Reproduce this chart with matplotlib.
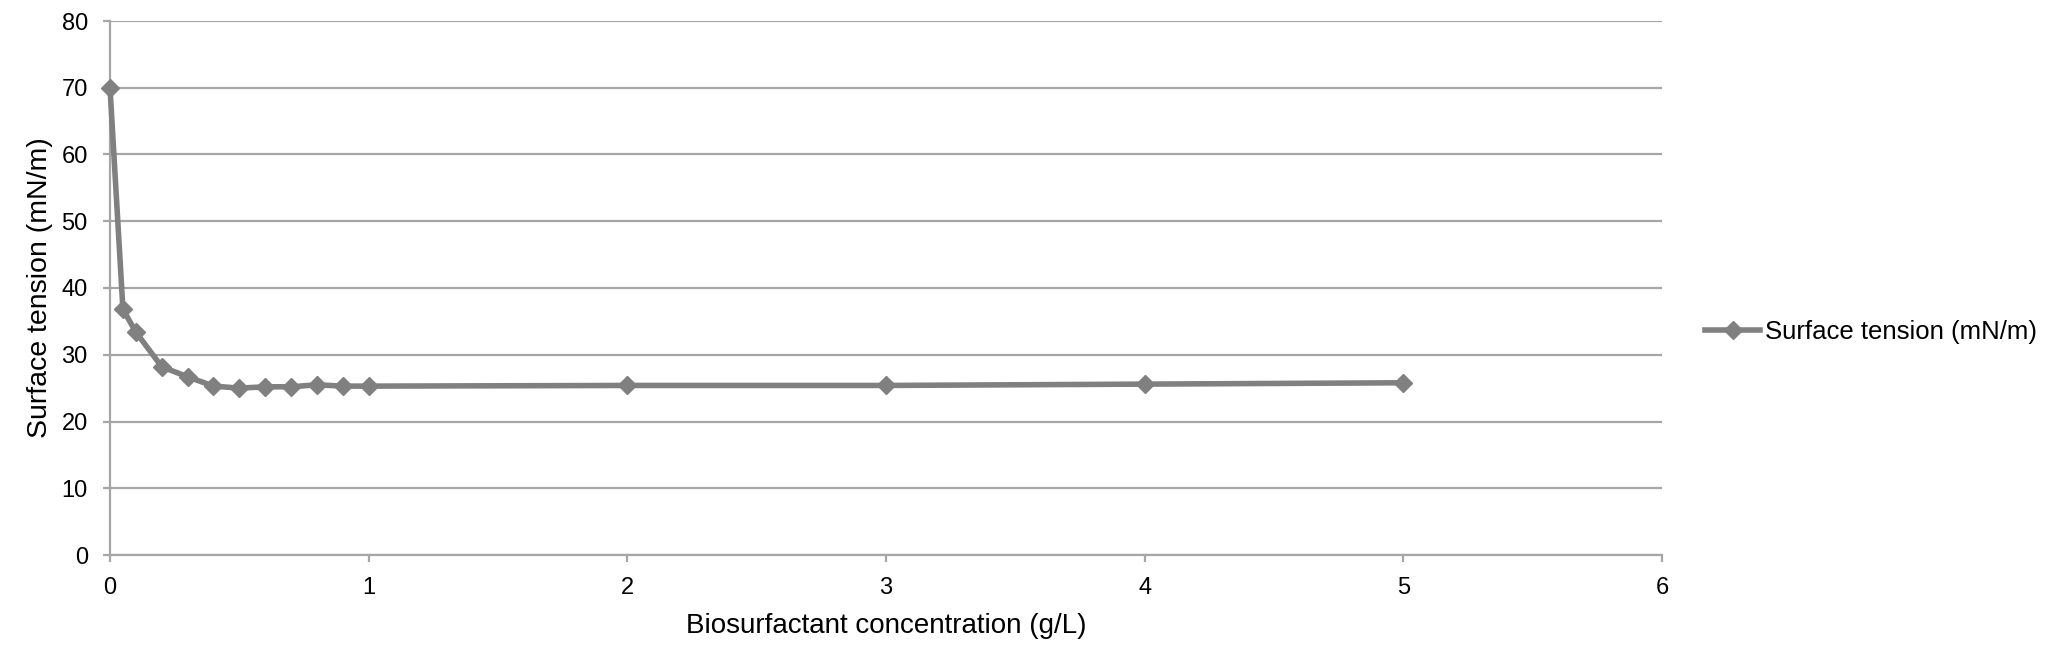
import matplotlib
matplotlib.use("Agg")
import matplotlib.pyplot as plt
from matplotlib.lines import Line2D

concentration = [0, 0.05, 0.1, 0.2, 0.3, 0.4, 0.5, 0.6, 0.7, 0.8, 0.9, 1, 2, 3, 4, 5]
surface_tension = [70.0, 36.8, 33.4, 28.2, 26.7, 25.3, 25.0, 25.2, 25.2, 25.5, 25.3, 25.3, 25.4, 25.4, 25.6, 25.8]
x_ticks = [0, 1, 2, 3, 4, 5, 6]
y_ticks = [0, 10, 20, 30, 40, 50, 60, 70, 80]
series_label = "Surface tension (mN/m)"

plt.rcParams['font.family'] = ['Liberation Sans', 'DejaVu Sans']
fig = plt.figure(figsize=(20.52, 6.64), dpi=100)
ax = fig.add_axes([110 / 2052, 1 - 555 / 664, 1552 / 2052, 534 / 664])

line_color = '#808080'
grid_color = '#a6a6a6'
ax.plot(concentration, surface_tension, color=line_color, lw=4, marker='D',
        markersize=9.5, markeredgecolor=line_color, markerfacecolor=line_color,
        label=series_label, zorder=3, clip_on=False)

ax.set_xlim(0, 6)
ax.set_ylim(0, 80)
ax.set_xticks(x_ticks)
ax.set_yticks(y_ticks)
ax.yaxis.grid(True, color=grid_color, lw=1.6)
ax.set_axisbelow(True)
for s in ['top', 'right']:
    ax.spines[s].set_visible(False)
for s in ['left', 'bottom']:
    ax.spines[s].set_color(grid_color)
    ax.spines[s].set_linewidth(1.6)
ax.tick_params(axis='both', colors=grid_color, labelcolor='black', labelsize=17,
               length=5, width=1.6, pad=11)
ax.set_xlabel("Biosurfactant concentration (g/L)", fontsize=20, labelpad=10)
ax.set_ylabel(series_label, fontsize=20.5, labelpad=6)

handle = Line2D([], [], color=line_color, lw=4, marker='D', markersize=9,
                markeredgecolor=line_color, markerfacecolor=line_color)
fig.legend([handle], [series_label], loc='center left',
           bbox_to_anchor=(1705 / 2052, 1 - 332 / 664), frameon=False, fontsize=18.5,
           handlelength=2.15, handletextpad=0.2, borderpad=0, borderaxespad=0)

fig.savefig("out.png", dpi=100)
